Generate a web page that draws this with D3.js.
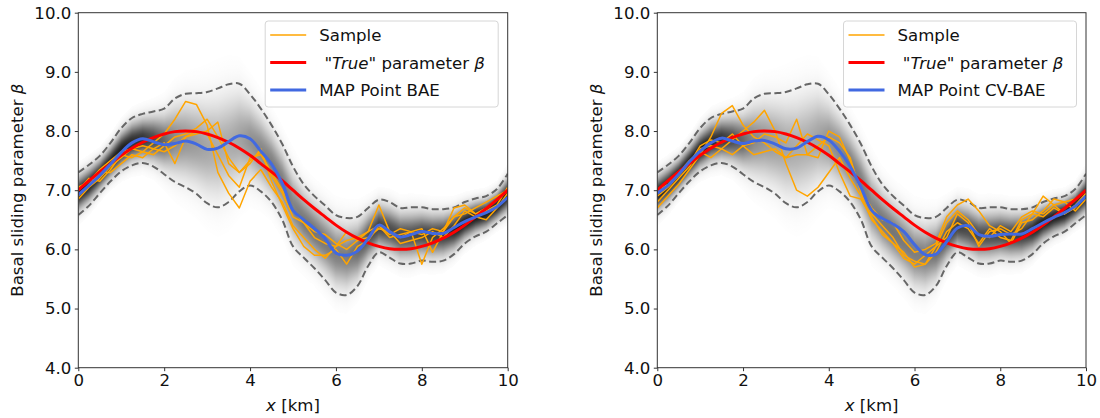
<!DOCTYPE html>
<html>
<head>
<meta charset="utf-8">
<script src="https://cdn.jsdelivr.net/npm/d3@7"></script>
<style>
  body { margin: 0; background: #fff; }
  svg text { font-family: "DejaVu Sans", sans-serif; fill: #111; }
</style>
</head>
<body>
<div id="chart"></div>
<script>
// x positions (km) for all series below
const xGrid = d3.range(0, 10.0001, 0.25);

// ticks
const yTicks = [4, 5, 6, 7, 8, 9, 10];
const xTicks = [0, 2, 4, 6, 8, 10];

// "True" parameter beta
const trueBeta = [7.00, 7.16, 7.31, 7.45, 7.59, 7.71, 7.81, 7.89, 7.95, 7.99, 8.00, 7.99, 7.95, 7.89, 7.81, 7.71,
  7.59, 7.45, 7.31, 7.16, 7.00, 6.84, 6.69, 6.55, 6.41, 6.29, 6.19, 6.11, 6.05, 6.01, 6.00, 6.01, 6.05, 6.11,
  6.19, 6.29, 6.41, 6.55, 6.69, 6.84, 7.00];

// credible band (dashed lines), same in both panels
const upperBand = [7.30, 7.43, 7.58, 7.80, 8.05, 8.22, 8.29, 8.33, 8.38, 8.55, 8.63, 8.64, 8.66, 8.72, 8.79, 8.80,
  8.62, 8.38, 8.10, 7.78, 7.40, 7.10, 6.90, 6.74, 6.58, 6.53, 6.55, 6.70, 6.84, 6.80, 6.70, 6.71, 6.71, 6.68,
  6.68, 6.71, 6.80, 6.86, 6.90, 7.02, 7.28];
const lowerBand = [6.58, 6.74, 6.95, 7.15, 7.32, 7.42, 7.46, 7.40, 7.27, 7.14, 7.05, 6.94, 6.78, 6.71, 6.80, 6.98,
  7.08, 6.98, 6.80, 6.50, 6.05, 5.86, 5.68, 5.48, 5.27, 5.23, 5.38, 5.72, 5.95, 5.86, 5.76, 5.76, 5.81, 5.79,
  5.81, 5.92, 6.10, 6.22, 6.30, 6.44, 6.58];

// MAP points
const mapBAE = [6.92, 7.08, 7.25, 7.44, 7.64, 7.80, 7.87, 7.82, 7.77, 7.79, 7.83, 7.78, 7.69, 7.71, 7.82, 7.92,
  7.87, 7.66, 7.44, 7.12, 6.66, 6.50, 6.35, 6.18, 5.94, 5.90, 5.97, 6.18, 6.41, 6.30, 6.21, 6.25, 6.30, 6.27,
  6.27, 6.37, 6.47, 6.55, 6.62, 6.72, 6.88];
const mapCVBAE = [6.95, 7.08, 7.27, 7.48, 7.66, 7.80, 7.88, 7.83, 7.79, 7.83, 7.84, 7.78, 7.70, 7.71, 7.82, 7.91,
  7.85, 7.66, 7.40, 7.05, 6.66, 6.52, 6.43, 6.30, 6.08, 5.91, 5.92, 6.13, 6.36, 6.40, 6.25, 6.22, 6.25, 6.26,
  6.26, 6.35, 6.45, 6.54, 6.62, 6.73, 6.90];

// posterior samples, BAE
const samplesBAE = [
  [6.85, 7.05, 7.20, 7.40, 7.55, 7.70, 7.65, 7.80, 7.95, 8.20, 8.50, 8.45, 8.10, 7.30, 6.95, 6.70, 7.15, 7.35, 7.05, 6.80,
   6.40, 6.20, 6.00, 5.85, 6.05, 6.30, 6.15, 6.30, 6.75, 6.30, 6.20, 6.30, 6.25, 6.35, 6.30, 6.55, 6.70, 6.60, 6.70, 6.85, 7.00],
  [7.00, 7.20, 7.15, 7.35, 7.60, 7.55, 7.65, 7.60, 7.75, 7.90, 7.95, 8.05, 8.20, 7.90, 7.55, 7.30, 7.50, 7.65, 7.25, 6.95,
   6.55, 6.45, 6.30, 6.25, 6.10, 6.00, 6.15, 6.20, 6.35, 6.30, 6.10, 6.15, 6.20, 6.30, 6.20, 6.40, 6.65, 6.55, 6.50, 6.70, 6.95],
  [6.90, 7.10, 7.30, 7.30, 7.45, 7.60, 7.55, 7.70, 7.80, 7.45, 7.90, 7.95, 8.00, 8.15, 7.45, 7.30, 7.45, 7.70, 7.15, 6.75,
   6.35, 6.05, 5.90, 5.90, 6.00, 5.75, 6.05, 6.15, 6.40, 6.20, 6.25, 6.30, 6.35, 5.95, 6.30, 6.70, 6.75, 6.60, 6.65, 6.75, 7.05],
  [7.05, 7.15, 7.35, 7.50, 7.65, 7.70, 7.75, 7.70, 7.65, 7.75, 7.90, 8.00, 7.95, 7.60, 7.25, 7.05, 7.55, 7.60, 7.30, 7.00,
   6.65, 6.45, 6.20, 6.10, 6.05, 6.15, 6.20, 6.30, 6.40, 6.25, 6.35, 6.30, 5.75, 6.20, 6.35, 6.55, 6.60, 6.70, 6.80, 6.90, 7.00]
];

// posterior samples, CV-BAE
const samplesCVBAE = [
  [6.70, 6.90, 7.10, 7.35, 7.60, 7.90, 8.30, 8.43, 8.10, 7.90, 7.80, 7.65, 7.55, 7.60, 7.60, 7.75, 7.90, 7.80, 7.55, 6.95,
   6.60, 6.40, 6.20, 5.90, 5.80, 5.75, 5.95, 6.30, 6.45, 6.35, 6.10, 6.35, 6.20, 6.15, 6.50, 6.60, 6.55, 6.70, 6.60, 6.75, 6.95],
  [6.80, 7.00, 7.20, 7.40, 7.70, 7.75, 7.70, 7.85, 8.00, 8.15, 8.35, 8.00, 7.45, 7.00, 6.90, 7.05, 7.30, 7.55, 7.20, 6.90,
   6.50, 6.30, 6.10, 5.95, 5.70, 5.75, 6.05, 6.45, 6.65, 6.50, 6.25, 6.20, 6.40, 6.30, 6.55, 6.65, 6.60, 6.75, 6.80, 6.65, 6.85],
  [7.00, 7.10, 7.30, 7.50, 7.65, 7.55, 7.70, 7.60, 7.75, 7.80, 7.95, 7.90, 7.80, 8.20, 7.60, 7.55, 8.00, 7.90, 7.50, 7.00,
   6.70, 6.50, 6.45, 6.15, 5.95, 6.00, 6.10, 6.55, 6.75, 6.85, 6.65, 6.40, 6.30, 6.10, 6.45, 6.50, 6.65, 6.85, 6.80, 6.85, 7.00],
  [6.90, 7.05, 7.25, 7.45, 7.75, 7.85, 7.80, 7.95, 7.75, 7.60, 7.65, 7.70, 7.55, 7.75, 7.95, 7.85, 7.75, 7.30, 6.90, 6.85,
   6.55, 6.25, 6.10, 5.85, 5.75, 5.90, 6.05, 6.20, 6.60, 6.45, 6.05, 6.30, 6.35, 6.25, 6.35, 6.60, 6.90, 6.75, 6.60, 6.70, 6.95]
];

const width = 1100;
const height = 418;
const plotTop = 12.7, plotBottom = 367.7;
const fontSize = "16.6px";

const panels = [
  { id: "a", left: 78.3, right: 507.7, map: mapBAE, samples: samplesBAE, mapLabel: "MAP Point BAE", ylabelX: 22.5 },
  { id: "b", left: 657.3, right: 1086, map: mapCVBAE, samples: samplesCVBAE, mapLabel: "MAP Point CV-BAE", ylabelX: 601.5 }
];

const svg = d3.select("#chart")
  .append("svg")
  .attr("width", width)
  .attr("height", height);

const defs = svg.append("defs");

// gaussian vertical profile used for the density shading
const gauss = defs.append("linearGradient")
  .attr("id", "gauss")
  .attr("x1", 0).attr("y1", 0).attr("x2", 0).attr("y2", 1);
d3.range(0, 1.0001, 1 / 30).forEach(t => {
  const z = (t - 0.5) * 6;
  gauss.append("stop")
    .attr("offset", t)
    .attr("stop-color", "#000")
    .attr("stop-opacity", Math.exp(-z * z / 2));
});

const y = d3.scaleLinear().domain([4, 10]).range([plotBottom, plotTop]);
const upperAt = d3.scaleLinear().domain(xGrid).range(upperBand);
const lowerAt = d3.scaleLinear().domain(xGrid).range(lowerBand);

panels.forEach(p => {
  const x = d3.scaleLinear().domain([0, 10]).range([p.left, p.right]);
  const g = svg.append("g");

  defs.append("clipPath").attr("id", "clip-" + p.id)
    .append("rect")
    .attr("x", p.left).attr("y", plotTop)
    .attr("width", p.right - p.left).attr("height", plotBottom - plotTop);

  const plot = g.append("g").attr("clip-path", `url(#clip-${p.id})`);

  // density shading, one column per pixel
  const cols = d3.range(Math.floor(p.left), Math.ceil(p.right), 1);
  plot.append("g")
    .selectAll("rect")
    .data(cols)
    .join("rect")
    .attr("x", d => d)
    .attr("width", 1)
    .each(function (d) {
      const km = Math.max(0, Math.min(10, x.invert(d + 0.5)));
      const u = upperAt(km), l = lowerAt(km);
      const m = (u + l) / 2, s = (u - l) / 4;
      d3.select(this)
        .attr("y", y(m + 3 * s))
        .attr("height", y(m - 3 * s) - y(m + 3 * s))
        .attr("opacity", Math.min(0.88, 0.165 / s));
    })
    .attr("fill", "url(#gauss)")
    .attr("shape-rendering", "crispEdges");

  const smooth = d3.line()
    .x((d, i) => x(xGrid[i]))
    .y(d => y(d))
    .curve(d3.curveCatmullRom.alpha(0.5));

  const jagged = d3.line()
    .x((d, i) => x(xGrid[i]))
    .y(d => y(d));

  [upperBand, lowerBand].forEach(band => {
    plot.append("path")
      .attr("d", smooth(band))
      .attr("fill", "none")
      .attr("stroke", "#666")
      .attr("stroke-width", 2)
      .attr("stroke-dasharray", "7,3.5");
  });

  p.samples.forEach(s => {
    plot.append("path")
      .attr("d", jagged(s))
      .attr("fill", "none")
      .attr("stroke", "#FFA500")
      .attr("stroke-width", 1.5)
      .attr("stroke-linejoin", "round");
  });

  plot.append("path")
    .attr("d", smooth(trueBeta))
    .attr("fill", "none")
    .attr("stroke", "#FF0000")
    .attr("stroke-width", 3);

  plot.append("path")
    .attr("d", smooth(p.map))
    .attr("fill", "none")
    .attr("stroke", "#4169E1")
    .attr("stroke-width", 3);

  // frame
  g.append("rect")
    .attr("x", p.left).attr("y", plotTop)
    .attr("width", p.right - p.left).attr("height", plotBottom - plotTop)
    .attr("fill", "none")
    .attr("stroke", "#333")
    .attr("stroke-width", 1);

  // axes
  const yAxis = g.append("g")
    .attr("transform", `translate(${p.left},0)`)
    .call(d3.axisLeft(y).tickValues(yTicks).tickFormat(d3.format(".1f")).tickSize(3.5).tickPadding(3.5));
  const xAxis = g.append("g")
    .attr("transform", `translate(0,${plotBottom})`)
    .call(d3.axisBottom(x).tickValues(xTicks).tickSize(3.5).tickPadding(3.5));
  [yAxis, xAxis].forEach(a => {
    a.select(".domain").remove();
    a.selectAll("line").attr("stroke", "#333");
    a.selectAll("text").style("font-size", fontSize).attr("fill", "#111");
  });

  // axis labels
  const yl = g.append("text")
    .attr("transform", `translate(${p.ylabelX},${(plotTop + plotBottom) / 2}) rotate(-90)`)
    .attr("text-anchor", "middle")
    .style("font-size", fontSize);
  yl.append("tspan").text("Basal sliding parameter ");
  yl.append("tspan").style("font-style", "italic").text("β");

  const xl = g.append("text")
    .attr("x", (p.left + p.right) / 2)
    .attr("y", 411)
    .attr("text-anchor", "middle")
    .style("font-size", fontSize);
  xl.append("tspan").style("font-style", "italic").text("x");
  xl.append("tspan").text(" [km]");

  // legend
  const lw = 233, lh = 86;
  const lx = p.right - 9.5 - lw, ly = 21;
  const leg = g.append("g");
  leg.append("rect")
    .attr("x", lx).attr("y", ly)
    .attr("width", lw).attr("height", lh)
    .attr("rx", 3)
    .attr("fill", "#fff").attr("fill-opacity", 0.8)
    .attr("stroke", "#d6d6d6").attr("stroke-width", 1);

  const entries = [
    { color: "#FFA500", w: 1.5 },
    { color: "#FF0000", w: 3 },
    { color: "#4169E1", w: 3 }
  ];
  entries.forEach((e, i) => {
    const cy = ly + 14 + i * 27.5;
    leg.append("line")
      .attr("x1", lx + 5).attr("x2", lx + 41)
      .attr("y1", cy).attr("y2", cy)
      .attr("stroke", e.color).attr("stroke-width", e.w);
    const t = leg.append("text")
      .attr("x", lx + 54).attr("y", cy + 6)
      .style("font-size", fontSize)
      .attr("xml:space", "preserve");
    if (i === 0) t.text("Sample");
    if (i === 1) {
      t.append("tspan").text(" \"");
      t.append("tspan").style("font-style", "italic").text("True");
      t.append("tspan").text("\" parameter ");
      t.append("tspan").style("font-style", "italic").text("β");
    }
    if (i === 2) t.text(p.mapLabel);
  });
});
</script>
</body>
</html>
